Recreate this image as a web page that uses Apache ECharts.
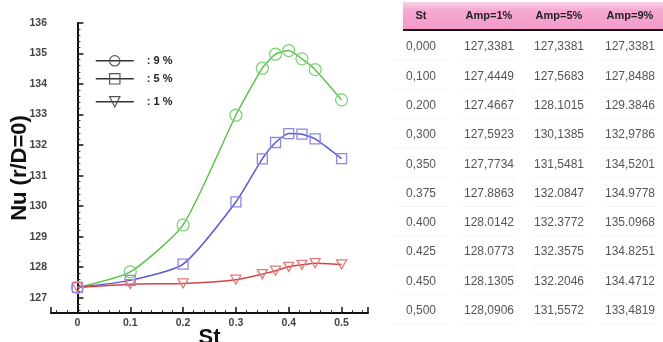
<!DOCTYPE html>
<html>
<head>
<meta charset="utf-8">
<script src="https://cdn.jsdelivr.net/npm/echarts@6/dist/echarts.min.js"></script>
<style>
  html, body { margin: 0; padding: 0; background: #fff; }
  #chart { width: 663px; height: 342px; }
</style>
</head>
<body>
<div id="chart"></div>
<script>
// Strouhal numbers and stagnation-point Nusselt numbers for three amplitudes
const stValues = [0, 0.1, 0.2, 0.3, 0.35, 0.375, 0.4, 0.425, 0.45, 0.5];
const nuAmp1 = [127.3381, 127.4449, 127.4667, 127.5923, 127.7734, 127.8863, 128.0142, 128.0773, 128.1305, 128.0906];
const nuAmp5 = [127.3381, 127.5683, 128.1015, 130.1385, 131.5481, 132.0847, 132.3772, 132.3575, 132.2046, 131.5572];
const nuAmp9 = [127.3381, 127.8488, 129.3846, 132.9786, 134.5201, 134.9778, 135.0968, 134.8251, 134.4712, 133.4819];

// Table text
const tableHeaders = ['St', 'Amp=1%', 'Amp=5%', 'Amp=9%'];
const rowDecimalMarks = [',', ',', '.', ',', ',', '.', '.', '.', '.', ','];
const legendNames = ['9 %', '5 %', '1 %'];

function fmt(v, digits, mark) {
  return v.toFixed(digits).replace('.', mark);
}

const chart = echarts.init(document.getElementById('chart'), null, { renderer: 'canvas' });

// ---- table drawn with graphic elements ----
const colCenters = [421, 489, 559, 630];
const rowTop = 47, rowStep = 29.3;
const graphics = [];
graphics.push({
  type: 'rect', shape: { x: 403, y: 2, width: 260, height: 27 },
  style: { fill: new echarts.graphic.LinearGradient(0, 0, 0, 1, [
    { offset: 0, color: '#fbd3e8' }, { offset: 0.3, color: '#f6a9d2' }, { offset: 1, color: '#f39ac8' }
  ]) }, silent: true
});
graphics.push({
  type: 'line', shape: { x1: 403, y1: 30, x2: 663, y2: 30 },
  style: { stroke: '#1a1a1a', lineWidth: 2 }, silent: true
});
tableHeaders.forEach((h, c) => {
  graphics.push({
    type: 'text', x: colCenters[c], y: 16,
    style: { text: h, fill: '#222', font: 'bold 11px "Liberation Sans", Arial, sans-serif', align: 'center', verticalAlign: 'middle' },
    silent: true
  });
});
stValues.forEach((st, i) => {
  const y = rowTop + i * rowStep;
  const mark = rowDecimalMarks[i];
  const cells = [fmt(st, 3, mark), fmt(nuAmp1[i], 4, mark), fmt(nuAmp5[i], 4, mark), fmt(nuAmp9[i], 4, mark)];
  cells.forEach((t, c) => {
    graphics.push({
      type: 'text', x: colCenters[c], y: y,
      style: { text: t, fill: '#555', font: '12px "Liberation Sans", Arial, sans-serif', align: 'center', verticalAlign: 'middle' },
      silent: true
    });
    // faint dotted cell border under each row
    graphics.push({
      type: 'line', shape: { x1: colCenters[c] - 27, y1: y + 13, x2: colCenters[c] + 27, y2: y + 13 },
      style: { stroke: '#ececec', lineWidth: 1, lineDash: [1, 1] }, silent: true
    });
  });
});

const seriesDefs = [
  { name: legendNames[0], data: nuAmp9, line: '#5cc24c', mark: '#7fd27a', symbol: 'circle', size: 12 },
  { name: legendNames[1], data: nuAmp5, line: '#5a58cc', mark: '#8a88e6', symbol: 'rect', size: 10 },
  { name: legendNames[2], data: nuAmp1, line: '#d24646', mark: '#e27a7a', symbol: 'path://M0,0 L10,0 L5,9 Z', size: [10, 9] }
];

const legendTops = [55, 73, 96];
const legends = seriesDefs.map((s, k) => ({
  data: [s.name],
  left: 95, top: legendTops[k],
  padding: 0,
  orient: 'vertical',
  itemWidth: 38, itemHeight: 13,
  formatter: ': {name}',
  itemStyle: { color: 'rgba(255,255,255,0)', borderColor: '#555', borderWidth: 1.2 },
  lineStyle: { color: '#333', width: 1.5 },
  textStyle: { color: '#222', fontSize: 11, fontWeight: 'bold', fontFamily: '"Liberation Sans", Arial, sans-serif', padding: [0, 0, 0, 8] },
  selectedMode: false
}));

const axisFont = '"Liberation Sans", Arial, sans-serif';

const option = {
  backgroundColor: '#fff',
  animation: false,
  grid: { left: 51, top: 23, width: 317, height: 290, containLabel: false, outerBoundsMode: 'none' },
  legend: legends,
  xAxis: {
    type: 'value', min: -0.05, max: 0.55, splitNumber: 6,
    name: 'St', nameLocation: 'middle', nameGap: 14, nameMoveOverlap: false,
    nameTextStyle: { fontSize: 22, fontWeight: 'bold', color: '#111', fontFamily: axisFont },
    axisLine: { show: true, lineStyle: { color: '#111', width: 2 } },
    axisTick: { show: true, inside: true, length: 6, lineStyle: { color: '#111', width: 1.5 } },
    minorTick: { show: true, splitNumber: 5, length: 3, lineStyle: { color: '#333', width: 1 } },
    splitLine: { show: false },
    axisLabel: {
      showMinLabel: false, showMaxLabel: false, margin: 5,
      color: '#444', fontSize: 10.5, fontWeight: 'bold', fontFamily: axisFont,
      formatter: v => (Math.abs(v) < 1e-9 ? '0' : String(+v.toFixed(2)))
    }
  },
  yAxis: {
    type: 'value', min: 126.5, max: 136, splitNumber: 9,
    name: 'Nu (r/D=0)', nameLocation: 'middle', nameGap: 20, nameRotate: 90, nameMoveOverlap: false,
    nameTextStyle: { fontSize: 22, fontWeight: 'bold', color: '#111', fontFamily: axisFont },
    axisLine: { show: true, lineStyle: { color: '#111', width: 2 } },
    axisTick: { show: true, inside: true, length: 6, lineStyle: { color: '#111', width: 1.5 } },
    minorTick: { show: true, splitNumber: 5, length: 3, lineStyle: { color: '#333', width: 1 } },
    splitLine: { show: false },
    axisLabel: {
      showMinLabel: false, margin: 4,
      color: '#444', fontSize: 10.5, fontWeight: 'bold', fontFamily: axisFont
    }
  },
  series: seriesDefs.map(s => ({
    name: s.name,
    type: 'line',
    smooth: 0.2,
    data: stValues.map((x, i) => [x, s.data[i]]),
    symbol: s.symbol,
    symbolSize: s.size,
    showAllSymbol: true,
    lineStyle: { color: s.line, width: 1.5 },
    itemStyle: { color: 'rgba(255,255,255,0)', borderColor: s.mark, borderWidth: 1.3 },
    emphasis: { disabled: true }
  })),
  graphic: graphics
};

chart.setOption(option);
</script>
</body>
</html>
